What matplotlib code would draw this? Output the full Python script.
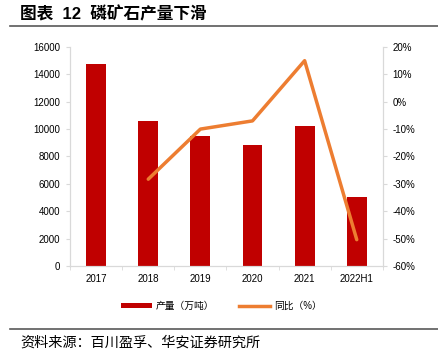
import numpy as np
import matplotlib
matplotlib.use("Agg")
from matplotlib import pyplot as plt
from matplotlib.lines import Line2D
from matplotlib.patches import Patch

plt.rcParams['font.family'] = ['Liberation Sans', 'Noto Sans CJK SC', 'DejaVu Sans']

years = ["2017", "2018", "2019", "2020", "2021", "2022H1"]
output = [14750, 10600, 9500, 8850, 10200, 5070]
yoy_years = ["2018", "2019", "2020", "2021", "2022H1"]
yoy = [-28.3, -10.0, -7.0, 15.0, -50.4]

red = "#C00000"
orange = "#ED7D31"
grey = "#D9D9D9"

fig = plt.figure(figsize=(4.38, 3.56), dpi=100)
ax = fig.add_axes([0.160, 0.253, 0.714, 0.615])
x = np.arange(len(years))
ax.bar(x, output, width=0.38, color=red, zorder=2)
ax.set_xlim(-0.5, len(years) - 0.5)
ax.set_ylim(0, 16000)
ax.set_yticks(range(0, 16001, 2000))
ax.set_xticks(x)
ax.set_xticklabels(years)
ax.set_xticks(np.arange(-0.5, len(years), 1), minor=True)
ax.tick_params(axis='x', which='major', length=0, labelsize=7, pad=6)
ax.tick_params(axis='x', which='minor', length=3, color=grey, direction='out')
ax.tick_params(axis='y', length=3, color=grey, labelsize=7, pad=4)

ax2 = ax.twinx()
xi = [years.index(y) for y in yoy_years]
ax2.plot(xi, yoy, color=orange, lw=2.5, solid_capstyle='round', zorder=3)
ax2.set_ylim(-60, 20)
ax2.set_yticks(range(-60, 21, 10))
ax2.set_yticklabels([f"{v}%" for v in range(-60, 21, 10)])
ax2.tick_params(axis='y', length=3, color=grey, labelsize=7, pad=4)

for a in (ax, ax2):
    a.spines['top'].set_visible(False)
    for s in ('left', 'right', 'bottom'):
        a.spines[s].set_color(grey)
        a.spines[s].set_linewidth(0.8)

handles = [Patch(facecolor=red, edgecolor='none'),
           Line2D([0], [0], color=orange, lw=2.5)]
fig.legend(handles, ["产量（万吨）", "同比（%）"], loc='center', bbox_to_anchor=(0.505, 0.14),
           ncol=2, frameon=False, fontsize=7, handlelength=3.2, handleheight=0.5,
           columnspacing=2.5, handletextpad=0.4)

fig.text(0.046, 0.96, "图表  12  磷矿石产量下滑", fontsize=12, fontweight='bold',
         va='center', ha='left')
fig.add_artist(Line2D([0.023, 1.0], [0.927, 0.927], color="#595959", lw=1.2))
fig.add_artist(Line2D([0.023, 1.0], [0.076, 0.076], color="#595959", lw=1.2))
fig.text(0.046, 0.037, "资料来源：百川盈孚、华安证券研究所", fontsize=10.2, va='center', ha='left')

fig.savefig("out.png", dpi=100)
